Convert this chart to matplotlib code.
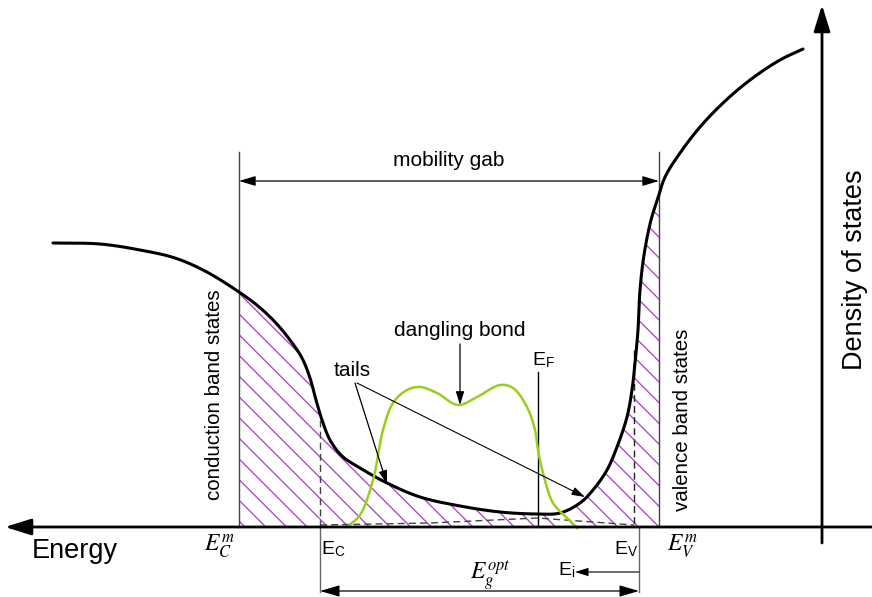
import numpy as np
import matplotlib
matplotlib.use("Agg")
import matplotlib.pyplot as plt

plt.rcParams['font.family'] = ['Liberation Sans', 'DejaVu Sans']
plt.rcParams['mathtext.fontset'] = 'stix'

# density of states curve (x = energy position, y = screen height, px)
dos_x = [53, 100, 140, 175, 205, 239, 258, 275, 290, 302, 310, 316, 322, 330, 342,
         360, 387, 420, 460, 500, 537, 560, 580, 593, 607, 617, 627, 632, 635, 638,
         640, 644, 651, 658, 665, 680, 700, 723, 750, 780, 803]
dos_y = [243, 244, 250, 258, 271, 292, 306, 322, 340, 358, 378, 400, 420, 440, 456,
         468, 483, 497, 506, 512, 514, 513, 503, 490, 470, 447, 417, 390, 363, 330,
         290, 255, 220, 198, 177, 153, 127, 103, 80, 60, 49]

# dangling bond band (green)
db_x = [347, 360, 373, 383, 393, 407, 420, 437, 458, 477, 500, 513, 527, 535, 538,
        543, 553, 567, 577]
db_y = [527, 515, 480, 430, 403, 390, 387, 393, 405, 397, 385, 388, 407, 430, 450,
        473, 503, 518, 528]

# dashed tail baseline
tail_x = [320, 430, 537, 634]
tail_y = [525, 523, 518, 525]

base = 527
x_cm, x_c, x_f, x_v, x_vm = 239, 320, 538, 634, 659


def smooth(x, y, n=16):
    # centripetal catmull-rom through the read points
    p = np.column_stack([x, y]).astype(float)
    p = np.vstack([2 * p[0] - p[1], p, 2 * p[-1] - p[-2]])
    out = []
    for i in range(1, len(p) - 2):
        p0, p1, p2, p3 = p[i - 1], p[i], p[i + 1], p[i + 2]
        t0 = 0.0
        t1 = t0 + np.linalg.norm(p1 - p0) ** 0.5
        t2 = t1 + np.linalg.norm(p2 - p1) ** 0.5
        t3 = t2 + np.linalg.norm(p3 - p2) ** 0.5
        t = np.linspace(t1, t2, n, endpoint=False)[:, None]
        a1 = (t1 - t) / (t1 - t0) * p0 + (t - t0) / (t1 - t0) * p1
        a2 = (t2 - t) / (t2 - t1) * p1 + (t - t1) / (t2 - t1) * p2
        a3 = (t3 - t) / (t3 - t2) * p2 + (t - t2) / (t3 - t2) * p3
        b1 = (t2 - t) / (t2 - t0) * a1 + (t - t0) / (t2 - t0) * a2
        b2 = (t3 - t) / (t3 - t1) * a2 + (t - t1) / (t3 - t1) * a3
        out.append((t2 - t) / (t2 - t1) * b1 + (t - t1) / (t2 - t1) * b2)
    out.append(p[-2][None, :])
    out = np.vstack(out)
    return out[:, 0], out[:, 1]


fig = plt.figure(figsize=(8.72, 5.97), dpi=100)
ax = fig.add_axes([0, 0, 1, 1])
ax.set_xlim(0, 872)
ax.set_ylim(597, 0)
ax.axis('off')

sx, sy = smooth(dos_x, dos_y)
gx, gy = smooth(db_x, db_y)

# hatched band states between the mobility edges
xs = np.linspace(x_cm, x_vm, 800)
ys = np.interp(xs, sx, sy)
region = ax.fill_between(xs, ys, base, facecolor='none', edgecolor='none', linewidth=0)
step = 20.7
for c in np.arange(157.7 - 30 * step, 157.7 + 30 * step, step):
    ln, = ax.plot([x_cm - 5, x_vm + 5], [x_cm - 5 + c, x_vm + 5 + c],
                  color='#a93cc8', lw=0.9)
    ln.set_clip_path(region.get_paths()[0], region.get_transform())

# axes
ax.annotate('', xy=(5, base), xytext=(872, base),
            arrowprops=dict(arrowstyle='-|>,head_length=1.6,head_width=0.5',
                            color='black', lw=2, shrinkA=0, shrinkB=0))
ax.annotate('', xy=(822, 5), xytext=(822, 543),
            arrowprops=dict(arrowstyle='-|>,head_length=1.6,head_width=0.5',
                            color='black', lw=2, shrinkA=0, shrinkB=0))

# mobility edges
ax.plot([x_cm, x_cm], [152, base], color='#444444', lw=1)
ax.plot([x_vm, x_vm], [152, base], color='#444444', lw=1)
ax.annotate('', xy=(x_cm, 181), xytext=(x_vm, 181),
            arrowprops=dict(arrowstyle='<|-|>,head_length=1.0,head_width=0.3',
                            color='black', lw=0.9, shrinkA=0, shrinkB=0))
ax.text((x_cm + x_vm) / 2, 160, 'mobility gab', ha='center', va='center', fontsize=15)

# band edges
ax.plot([x_c, x_c], [420, base], color='#444444', lw=1, ls=(0, (5, 3)))
ax.plot([x_v, x_v], [350, base], color='#222222', lw=1, ls=(0, (5, 3)))
ax.plot([x_c, x_c], [base, 592], color='#666666', lw=1)
ax.plot([x_v + 5, x_v + 5], [base, 592], color='#666666', lw=1)
ax.plot(tail_x, tail_y, color='#444444', lw=1, ls=(0, (5, 3)))

# optical gap
ax.annotate('', xy=(x_c, 591), xytext=(x_v + 5, 591),
            arrowprops=dict(arrowstyle='<|-|>,head_length=1.2,head_width=0.35',
                            color='black', lw=0.9, shrinkA=0, shrinkB=0))
ax.annotate('', xy=(575, 572), xytext=(x_v + 5, 572),
            arrowprops=dict(arrowstyle='-|>,head_length=0.8,head_width=0.25',
                            color='black', lw=0.8, shrinkA=0, shrinkB=0))

# Fermi level
ax.plot([x_f, x_f], [372, base], color='black', lw=1)

# curves
ax.plot(sx, sy, color='black', lw=2.2, solid_capstyle='round')
ax.plot(gx, gy, color='#9acd1e', lw=1.8)

# annotations
ax.text(460, 330, 'dangling bond', ha='center', va='center', fontsize=15)
ax.annotate('', xy=(460, 405), xytext=(460, 344),
            arrowprops=dict(arrowstyle='-|>,head_length=0.8,head_width=0.25',
                            color='black', lw=0.9, shrinkA=0, shrinkB=0))
ax.text(352, 370, 'tails', ha='center', va='center', fontsize=15)
ax.annotate('', xy=(387, 484), xytext=(355, 383),
            arrowprops=dict(arrowstyle='-|>,head_length=0.8,head_width=0.25',
                            color='black', lw=0.9, shrinkA=0, shrinkB=0))
ax.annotate('', xy=(585, 497), xytext=(357, 383),
            arrowprops=dict(arrowstyle='-|>,head_length=0.8,head_width=0.25',
                            color='black', lw=0.8, shrinkA=0, shrinkB=0))

ax.text(214, 395, 'conduction band states', rotation=90, ha='center', va='center', fontsize=14.8)
ax.text(682, 420, 'valence band states', rotation=90, ha='center', va='center', fontsize=14.8)
ax.text(75, 551, 'Energy', ha='center', va='center', fontsize=19.5)
ax.text(855, 270, 'Density of states', rotation=90, ha='center', va='center', fontsize=19.5)

ax.text(x_f + 6, 360, r'E$_\mathregular{F}$', ha='center', va='center', fontsize=14)
ax.text(x_c + 13, 549, r'E$_\mathregular{C}$', ha='center', va='center', fontsize=14)
ax.text(x_v - 8, 549, r'E$_\mathregular{V}$', ha='center', va='center', fontsize=14)
ax.text(567, 570, r'E$_\mathregular{i}$', ha='center', va='center', fontsize=14)
ax.text(219, 546, r'$E_C^m$', ha='center', va='center', fontsize=17)
ax.text(682, 546, r'$E_V^m$', ha='center', va='center', fontsize=17)
ax.text(490, 576, r'$E_g^{opt}$', ha='center', va='center', fontsize=17)

fig.savefig('out.png', dpi=100)
